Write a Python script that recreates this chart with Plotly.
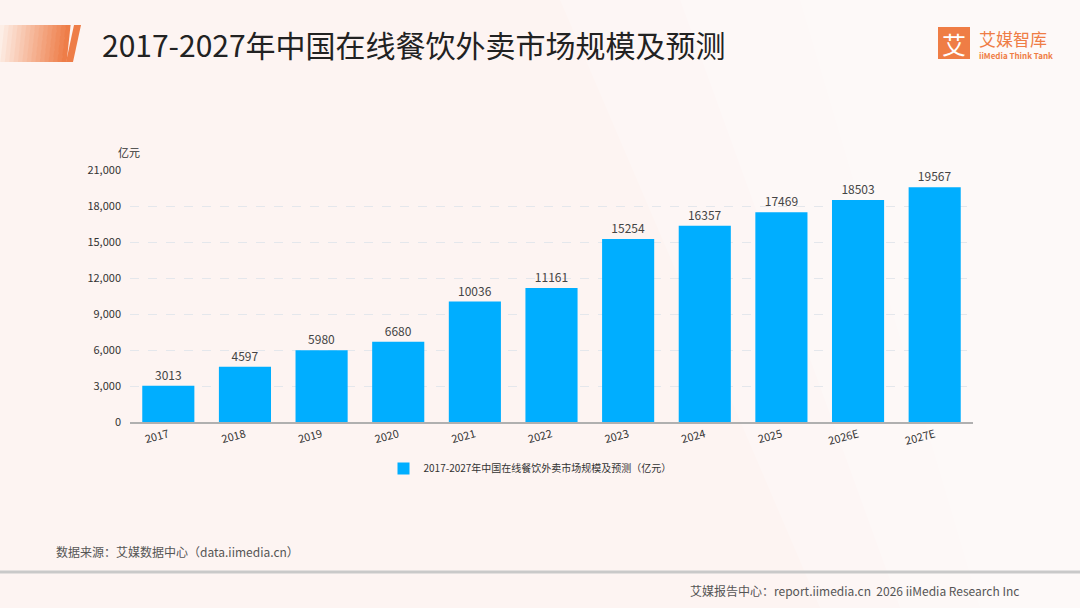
import plotly.graph_objects as go

years = ["2017", "2018", "2019", "2020", "2021", "2022", "2023", "2024", "2025", "2026E", "2027E"]
market_size = [3013, 4597, 5980, 6680, 10036, 11161, 15254, 16357, 17469, 18503, 19567]
y_ticks = [0, 3000, 6000, 9000, 12000, 15000, 18000, 21000]
y_tick_labels = ["0", "3,000", "6,000", "9,000", "12,000", "15,000", "18,000", "21,000"]

FONT = "Noto Sans CJK SC"
W, H = 1080, 608
L, R, T, B = 130, 107, 170, 186
PW, PH = W - L - R, H - T - B


def px(x):
    # page pixel -> paper x
    return (x - L) / PW


def py(y):
    # page pixel (from top) -> paper y
    return (H - B - y) / PH


fig = go.Figure()
fig.add_trace(go.Bar(
    x=years,
    y=market_size,
    name="2017-2027年中国在线餐饮外卖市场规模及预测（亿元）",
    marker=dict(color="#00aeff", line=dict(width=0)),
    text=[str(v) for v in market_size],
    textposition="outside",
    textfont=dict(size=12, color="#444444", family=FONT),
    cliponaxis=False,
))

shapes = []
# soft diagonal lightening of the background towards the right
for k, (a, b) in enumerate([(560, 820), (680, 900), (800, 980)]):
    shapes.append(dict(type="path", xref="paper", yref="paper", layer="below",
                       path=f"M {px(a)},{py(0)} L {px(W)},{py(0)} L {px(W)},{py(H)} L {px(b)},{py(H)} Z",
                       fillcolor="rgba(255,255,255,0.22)", line=dict(width=0)))

# header decoration: gradient block made of strips + slash
n = 16
for i in range(n):
    x0 = i * 70 / n
    x1 = (i + 1) * 70 / n + 0.6
    t = i / (n - 1)
    r = int(253 + (238 - 253) * t)
    g = int(238 + (125 - 238) * t)
    b = int(230 + (72 - 230) * t)
    shapes.append(dict(type="path", xref="paper", yref="paper",
                       path=f"M {px(x0)},{py(25)} L {px(x1)},{py(25)} L {px(x1 - 4)},{py(62)} L {px(x0 - 4)},{py(62)} Z",
                       fillcolor=f"rgb({r},{g},{b})", line=dict(width=0)))
shapes.append(dict(type="path", xref="paper", yref="paper",
                   path=f"M {px(74)},{py(25)} L {px(81)},{py(25)} L {px(73)},{py(62)} L {px(66)},{py(62)} Z",
                   fillcolor="#ee7d48", line=dict(width=0)))
# logo square
shapes.append(dict(type="rect", xref="paper", yref="paper",
                   x0=px(938), x1=px(970), y0=py(59), y1=py(27),
                   fillcolor="#ef7d45", line=dict(width=0)))
# footer separator
shapes.append(dict(type="line", xref="paper", yref="paper",
                   x0=px(0), x1=px(W), y0=py(572), y1=py(572),
                   line=dict(color="#c9c9c9", width=3)))


def note(text, x, y, anchor, size, color):
    return dict(text=text, x=px(x), y=py(y), xref="paper", yref="paper",
                xanchor=anchor, yanchor="middle", showarrow=False,
                font=dict(size=size, color=color, family=FONT))


annotations = [
    note("2017-2027年中国在线餐饮外卖市场规模及预测", 100, 44, "left", 30, "#222222"),
    note("艾", 954, 43, "center", 24, "#ffffff"),
    note("艾媒智库", 977, 38, "left", 17, "#ef7d45"),
    note("<b>iiMedia Think Tank</b>", 977, 55, "left", 8, "#ef7d45"),
    note("亿元", 142, 152, "right", 11, "#333333"),
    note("数据来源：艾媒数据中心（data.iimedia.cn）", 54, 551, "left", 12, "#555555"),
    note("艾媒报告中心：report.iimedia.cn  2026 iiMedia Research Inc", 1021, 590, "right", 12, "#555555"),
]

fig.update_layout(
    width=W, height=H,
    margin=dict(l=L, r=R, t=T, b=B, pad=0),
    paper_bgcolor="#fdf4f2",
    plot_bgcolor="rgba(0,0,0,0)",
    font=dict(family=FONT, size=12, color="#333333"),
    bargap=0.32,
    showlegend=True,
    legend=dict(orientation="h", x=px(530), xanchor="center", y=py(454), yanchor="top",
                font=dict(size=10, color="#333333", family=FONT),
                bgcolor="rgba(0,0,0,0)"),
    shapes=shapes,
    annotations=annotations,
    xaxis=dict(
        type="category",
        tickangle=-15,
        tickfont=dict(size=11, color="#333333", family=FONT),
        showline=True, linecolor="#b0b0b0", linewidth=2,
        ticks="", showgrid=False,
    ),
    yaxis=dict(
        range=[0, 21000],
        tickvals=y_ticks,
        ticktext=y_tick_labels,
        tickfont=dict(size=11, color="#333333", family=FONT),
        showgrid=True, gridcolor="#e4e7ec", griddash="dash", gridwidth=1,
        zeroline=False, showline=False, ticks="",
        ticklabelstandoff=8,
    ),
)

fig.write_html("out.html", config={"displayModeBar": False},
               post_script="document.body.style.margin='0';")
